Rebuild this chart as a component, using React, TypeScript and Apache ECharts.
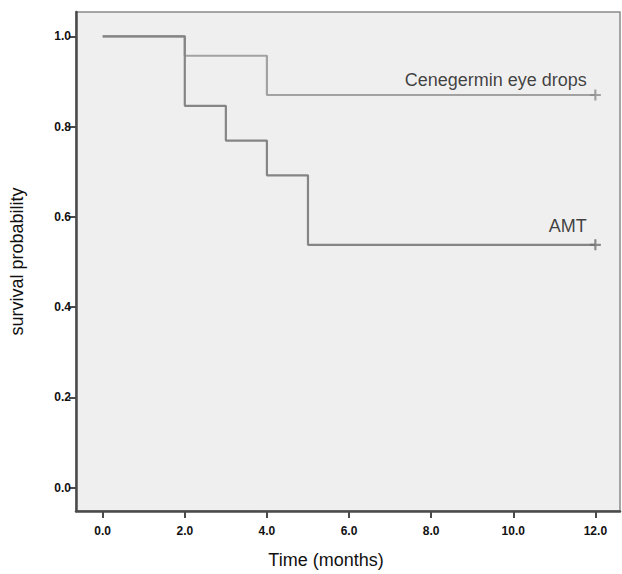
import React, { useEffect, useRef } from "react";
import * as echarts from "echarts";

const xTicks = [0, 2, 4, 6, 8, 10, 12];
const yTicks = [0, 0.2, 0.4, 0.6, 0.8, 1.0];
const cenegerminSteps: [number, number][] = [
  [0, 1.0],
  [2, 0.957],
  [4, 0.87],
  [12, 0.87],
];
const amtSteps: [number, number][] = [
  [0, 1.0],
  [2, 0.846],
  [3, 0.769],
  [4, 0.692],
  [5, 0.538],
  [12, 0.538],
];
const cenegerminCensor: [number, number][] = [[12, 0.87]];
const amtCensor: [number, number][] = [[12, 0.538]];
const groupNames = ["Cenegermin eye drops", "AMT"];

const FONT = "'Liberation Sans', Arial, Helvetica, sans-serif";
const PLUS = "path://M4,0h2v4h4v2h-4v4h-2v-4h-4v-2h4z";

export default function App() {
  const ref = useRef<HTMLDivElement>(null);
  useEffect(() => {
    if (!ref.current) return;
    const chart = echarts.init(ref.current, null, { renderer: "svg" });
    const cenColor = "#a2a2a2";
    const amtColor = "#858585";
    chart.setOption({
      animation: false,
      backgroundColor: "#ffffff",
      grid: {
        left: 74,
        right: 2,
        top: 12,
        bottom: 54,
        show: true,
        backgroundColor: "#efefef",
        borderColor: "#8a8a8a",
        borderWidth: 1.5,
      },
      xAxis: {
        type: "value",
        min: -0.65,
        max: 12.6,
        name: "Time (months)",
        nameLocation: "middle",
        nameGap: 40,
        nameTextStyle: {
          fontFamily: FONT,
          fontSize: 18,
          color: "#111",
          padding: [0, 44, 0, 0],
        },
        splitLine: { show: false },
        axisLine: { onZero: false, lineStyle: { color: "#4a4a4a", width: 2.5 } },
        axisTick: {
          customValues: xTicks,
          length: 7,
          lineStyle: { color: "#4a4a4a", width: 2 },
        },
        axisLabel: {
          customValues: xTicks,
          formatter: (v: number) => v.toFixed(1),
          fontFamily: FONT,
          fontSize: 12,
          fontWeight: "bold",
          color: "#111",
          margin: 14,
        },
      },
      yAxis: {
        type: "value",
        min: -0.052,
        max: 1.054,
        name: "survival probability",
        nameLocation: "middle",
        nameGap: 50,
        nameRotate: 90,
        nameTextStyle: { fontFamily: FONT, fontSize: 18, color: "#111" },
        splitLine: { show: false },
        axisLine: { onZero: false, lineStyle: { color: "#4a4a4a", width: 2.5 } },
        axisTick: {
          customValues: yTicks,
          length: 7,
          lineStyle: { color: "#4a4a4a", width: 2 },
        },
        axisLabel: {
          customValues: yTicks,
          formatter: (v: number) => v.toFixed(1),
          fontFamily: FONT,
          fontSize: 12,
          fontWeight: "bold",
          color: "#111",
          margin: 5,
        },
      },
      series: [
        {
          name: groupNames[0],
          type: "line",
          step: "end",
          data: cenegerminSteps,
          showSymbol: false,
          lineStyle: { color: cenColor, width: 2.2 },
          z: 2,
        },
        {
          name: groupNames[1],
          type: "line",
          step: "end",
          data: amtSteps,
          showSymbol: false,
          lineStyle: { color: amtColor, width: 2.2 },
          z: 3,
        },
        {
          name: groupNames[0] + " censored",
          type: "scatter",
          data: cenegerminCensor,
          symbol: PLUS,
          symbolSize: 11,
          itemStyle: { color: "#8c8c8c" },
          label: {
            show: true,
            formatter: groupNames[0],
            position: [-3, -10],
            align: "right",
            verticalAlign: "middle",
            fontFamily: FONT,
            fontSize: 18,
            color: "#111",
          },
          z: 4,
        },
        {
          name: groupNames[1] + " censored",
          type: "scatter",
          data: amtCensor,
          symbol: PLUS,
          symbolSize: 11,
          itemStyle: { color: "#707070" },
          label: {
            show: true,
            formatter: groupNames[1],
            position: [-3, -13],
            align: "right",
            verticalAlign: "middle",
            fontFamily: FONT,
            fontSize: 18,
            color: "#111",
          },
          z: 4,
        },
      ],
    });
    return () => chart.dispose();
  }, []);
  return (
    <div
      ref={ref}
      style={{ position: "absolute", left: 0, top: 0, width: 622, height: 574 }}
    />
  );
}
